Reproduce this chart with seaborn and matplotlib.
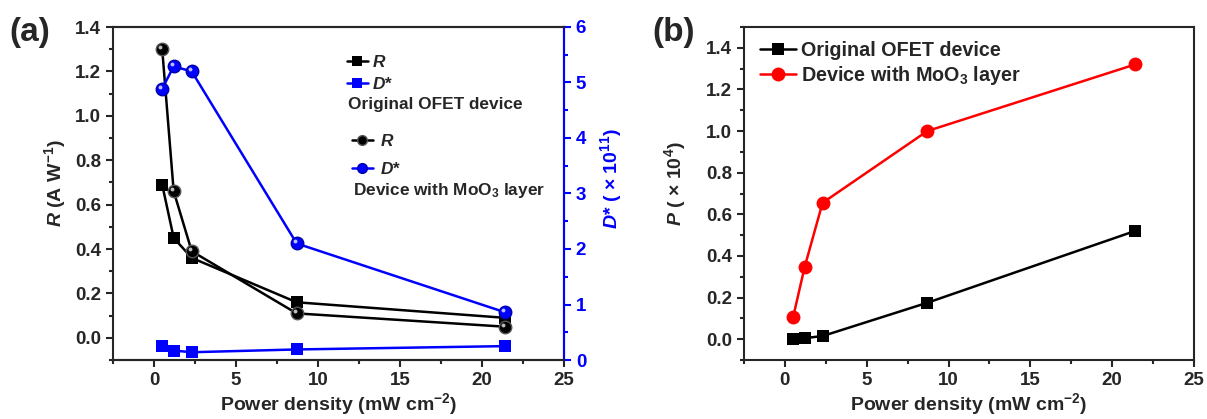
import numpy as np
import pandas as pd
import matplotlib
matplotlib.use("Agg")
import matplotlib.pyplot as plt
import matplotlib.transforms as mtransforms
from matplotlib.lines import Line2D
from matplotlib.ticker import MultipleLocator
import seaborn as sns

# ---- data ----
power = [0.5, 1.2, 2.3, 8.7, 21.4]
R_orig = [0.69, 0.45, 0.36, 0.16, 0.09]
R_moo3 = [1.30, 0.66, 0.39, 0.11, 0.05]
D_orig = [0.26, 0.17, 0.14, 0.19, 0.25]
D_moo3 = [4.89, 5.29, 5.20, 2.10, 0.86]
P_orig = [0.0, 0.005, 0.015, 0.175, 0.52]
P_moo3 = [0.105, 0.345, 0.655, 1.00, 1.32]

sns.set_style("ticks")
plt.rcParams["font.family"] = ["Liberation Sans", "DejaVu Sans"]
plt.rcParams["font.weight"] = "bold"
plt.rcParams["axes.labelweight"] = "bold"
plt.rcParams["mathtext.fontset"] = "custom"
plt.rcParams["mathtext.rm"] = "Liberation Sans:bold"
plt.rcParams["mathtext.bf"] = "Liberation Sans:bold"
plt.rcParams["mathtext.it"] = "Liberation Sans:italic:bold"
plt.rcParams["mathtext.default"] = "bf"

BLUE = "#0000ff"
RED = "#ff0000"

fig = plt.figure(figsize=(12.07, 4.19), dpi=100)
axa = fig.add_axes([113/1207, 1-360/419, 451/1207, 333/419])
axb = fig.add_axes([744/1207, 1-360/419, 450/1207, 333/419])
axa2 = axa.twinx()

lw = 1.8
ms = 9
TICK = 13.5

def sphere(ax, x, y, color, edge):
    sns.lineplot(x=x, y=y, ax=ax, color=color, lw=lw, marker="o", markersize=ms,
                 markeredgecolor=edge, markeredgewidth=1.0, legend=False, sort=False)
    off = mtransforms.offset_copy(ax.transData, fig=fig, x=-1.5, y=1.5, units="points")
    ax.plot(x, y, ls="none", marker="o", markersize=2.8, color="white", alpha=0.75,
            markeredgewidth=0, transform=off, zorder=5)

# panel (a)
sns.lineplot(x=power, y=R_orig, ax=axa, color="black", lw=lw, marker="s", markersize=ms,
             markeredgewidth=0, legend=False, sort=False)
sphere(axa, power, R_moo3, "black", "#555555")
sns.lineplot(x=power, y=D_orig, ax=axa2, color=BLUE, lw=lw, marker="s", markersize=ms,
             markeredgewidth=0, legend=False, sort=False)
sphere(axa2, power, D_moo3, BLUE, "#0000aa")

axa.set_xlim(-2.5, 25)
axa.set_ylim(-0.1, 1.4)
axa2.set_ylim(0, 6)
axa.xaxis.set_major_locator(MultipleLocator(5))
axa.xaxis.set_minor_locator(MultipleLocator(2.5))
axa.set_yticks(np.arange(0, 1.41, 0.2))
axa.set_yticklabels([f"{v:.1f}" for v in np.arange(0, 1.41, 0.2)])
axa.yaxis.set_minor_locator(MultipleLocator(0.1))
axa2.yaxis.set_major_locator(MultipleLocator(1))
axa2.yaxis.set_minor_locator(MultipleLocator(0.5))

axa.set_xlabel(r"Power density (mW cm$^{-2}$)", fontsize=14, labelpad=2)
axa.set_ylabel(r"$\mathit{R}$ (A W$^{-1}$)", fontsize=14)
axa.yaxis.set_label_coords(-0.10, 0.53)
axa2.set_ylabel(r"$\mathit{D}$* ( $\times$ 10$^{11}$)", fontsize=14, color=BLUE)
axa2.yaxis.set_label_coords(1.076, 0.545)

for ax in (axa, axa2, axb):
    for s in ax.spines.values():
        s.set_linewidth(1.5)
    ax.tick_params(which="major", length=5, width=1.5, labelsize=TICK, direction="out")
    ax.tick_params(which="minor", length=3, width=1.5, direction="out")
    for lab in ax.get_xticklabels() + ax.get_yticklabels():
        lab.set_fontweight("bold")
axa2.spines["right"].set_color(BLUE)
axa2.tick_params(axis="y", which="both", colors=BLUE)
axa2.spines["left"].set_visible(False)
for lab in axa2.get_yticklabels():
    lab.set_fontweight("bold")
    lab.set_color(BLUE)

# custom legend (a)
LF = 12.4
h1 = [Line2D([], [], color="black", lw=lw, marker="s", markersize=7, markeredgewidth=0),
      Line2D([], [], color=BLUE, lw=lw, marker="s", markersize=7, markeredgewidth=0)]
h2 = [Line2D([], [], color="black", lw=lw, marker="o", markersize=7, markeredgecolor="#555555"),
      Line2D([], [], color=BLUE, lw=lw, marker="o", markersize=7, markeredgecolor="#0000aa")]
leg1 = axa.legend(h1, [r"$\mathit{R}$", r"$\mathit{D}$*"], loc="upper left",
                  bbox_to_anchor=((347-113)/451, 1-(54-27)/333), frameon=False,
                  fontsize=LF, handlelength=1.2, handletextpad=0.25, labelspacing=0.35,
                  borderpad=0, borderaxespad=0)
axa.add_artist(leg1)
leg2 = axa.legend(h2, [r"$\mathit{R}$", r"$\mathit{D}$*"], loc="upper left",
                  bbox_to_anchor=((352-113)/451, 1-(133-27)/333), frameon=False,
                  fontsize=LF, handlelength=1.2, handletextpad=0.4, labelspacing=0.7,
                  borderpad=0, borderaxespad=0)
axa.text((348-113)/451, 1-(104-27)/333, "Original OFET device", transform=axa.transAxes,
         fontsize=LF, fontweight="bold", va="center", ha="left")
axa.text((353-113)/451, 1-(191-27)/333, r"Device with MoO$_3$ layer", transform=axa.transAxes,
         fontsize=LF, fontweight="bold", va="center", ha="left")

# panel (b)
sns.lineplot(x=power, y=P_orig, ax=axb, color="black", lw=lw, marker="s", markersize=ms,
             markeredgewidth=0, legend=False, sort=False, label="Original OFET device")
sns.lineplot(x=power, y=P_moo3, ax=axb, color=RED, lw=lw, marker="o", markersize=ms + 1,
             markeredgewidth=0, legend=False, sort=False, label=r"Device with MoO$_3$ layer")
axb.set_xlim(-2.5, 25)
axb.set_ylim(-0.1, 1.5)
axb.xaxis.set_major_locator(MultipleLocator(5))
axb.xaxis.set_minor_locator(MultipleLocator(2.5))
axb.set_yticks(np.arange(0, 1.41, 0.2))
axb.set_yticklabels([f"{v:.1f}" for v in np.arange(0, 1.41, 0.2)])
axb.yaxis.set_minor_locator(MultipleLocator(0.1))
axb.set_xlabel(r"Power density (mW cm$^{-2}$)", fontsize=14, labelpad=2)
axb.set_ylabel(r"$\mathit{P}$ ( $\times$ 10$^{4}$)", fontsize=14)
axb.yaxis.set_label_coords(-0.125, 0.53)
for lab in axb.get_xticklabels() + axb.get_yticklabels():
    lab.set_fontweight("bold")
axb.legend(loc="upper left", bbox_to_anchor=(0.005, 1.0), frameon=False, fontsize=14.2,
           handlelength=1.8, handletextpad=0.3, labelspacing=0.2, borderpad=0.2)

fig.text(9/1207, 1-33/419, "(a)", fontsize=24, fontweight="bold", va="center", ha="left")
fig.text(652/1207, 1-33/419, "(b)", fontsize=24, fontweight="bold", va="center", ha="left")

fig.savefig("out.png", dpi=100)
